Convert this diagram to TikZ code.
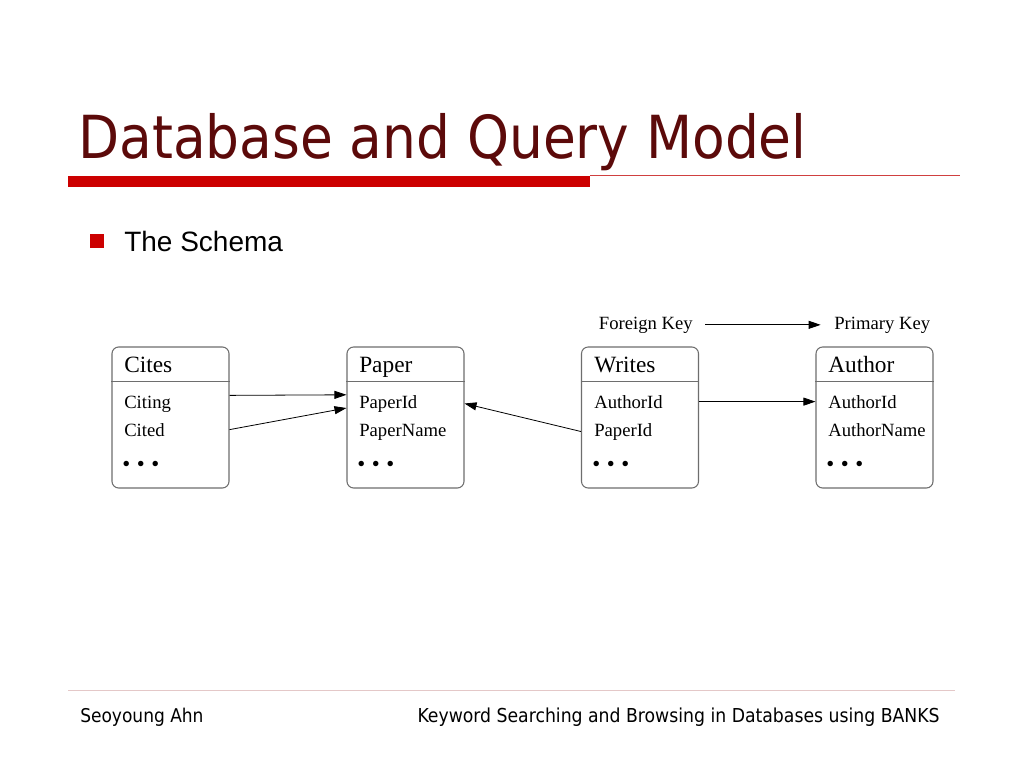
\documentclass[tikz,border=0pt]{standalone}
\usepackage{fontspec}
\setmainfont{Liberation Serif}
\newfontfamily\slidefont{DejaVu Sans Condensed}
\newfontfamily\bulletfont{Liberation Sans}
\usetikzlibrary{arrows.meta}
\definecolor{titlered}{HTML}{5C0A0A}
\definecolor{barred}{HTML}{CC0000}
\definecolor{linered}{HTML}{D04040}
\definecolor{footline}{HTML}{E4C8C8}
\definecolor{boxgray}{HTML}{6E6E6E}

\begin{document}
\begin{tikzpicture}[x=0.75pt,y=-0.75pt,
    tablebox/.style={draw=boxgray,line width=0.8pt,rounded corners=5pt,
        minimum width=87.75pt,minimum height=105.75pt,inner sep=0pt},
    tabhead/.style={anchor=base west,inner sep=0pt,font=\fontsize{17.5}{20}\selectfont},
    row/.style={anchor=base west,inner sep=0pt,font=\fontsize{14}{16}\selectfont},
    dots/.style={anchor=base west,inner sep=0pt,font=\fontsize{17}{20}\selectfont},
    fk/.style={line width=0.6pt,-{Triangle[length=9pt,width=6pt]}}]
    \useasboundingbox[fill=white] (0,0) rectangle (1024,768);

    % title and rules
    \node[anchor=base west,inner sep=0pt,text=titlered,
        font=\slidefont\fontsize{44.5}{50}\selectfont] (title) at (78,158) {Database and Query Model};
    \fill[barred] (68,176) rectangle (590,187);
    \draw[linered,line width=0.9pt] (590,175.5) -- (960,175.5);
    \fill[barred] (90,234) rectangle (104,248);
    \node[anchor=base west,inner sep=0pt,font=\bulletfont\fontsize{21}{24}\selectfont] (schema) at (124,251) {The Schema};

    % legend
    \node[row,anchor=base east] (fkey) at (693,329) {Foreign Key};
    \node[row] (pkey) at (834,329) {Primary Key};
    \draw[fk] ([xshift=9pt]fkey.east) -- ([xshift=-10pt]pkey.west);

    % Cites
    \node[tablebox] (cites) at (170.5,417.5) {};
    \node[tabhead] (citesT) at (124,372) {Cites};
    \draw[boxgray,line width=0.8pt] ([yshift=-26.25pt]cites.north west) -- ([yshift=-26.25pt]cites.north east);
    \node[row] (citing) at (124,408) {Citing};
    \node[row] (cited) at (124,436) {Cited};
    \node[dots] (citesdots) at (122,471) {•\hspace{5pt}•\hspace{5pt}•};

    % Paper
    \node[tablebox] (paper) at (405.5,417.5) {};
    \node[tabhead] (paperT) at (359,372) {Paper};
    \draw[boxgray,line width=0.8pt] ([yshift=-26.25pt]paper.north west) -- ([yshift=-26.25pt]paper.north east);
    \node[row] (paperid) at (359,408) {PaperId};
    \node[row] (papername) at (359,436) {PaperName};
    \node[dots] (paperdots) at (357,471) {•\hspace{5pt}•\hspace{5pt}•};

    % Writes
    \node[tablebox] (writes) at (640,417.5) {};
    \node[tabhead] (writesT) at (594,372) {Writes};
    \draw[boxgray,line width=0.8pt] ([yshift=-26.25pt]writes.north west) -- ([yshift=-26.25pt]writes.north east);
    \node[row] (wauthorid) at (594,408) {AuthorId};
    \node[row] (wpaperid) at (594,436) {PaperId};
    \node[dots] (writesdots) at (592,471) {•\hspace{5pt}•\hspace{5pt}•};

    % Author
    \node[tablebox] (author) at (874.5,417.5) {};
    \node[tabhead] (authorT) at (828,372) {Author};
    \draw[boxgray,line width=0.8pt] ([yshift=-26.25pt]author.north west) -- ([yshift=-26.25pt]author.north east);
    \node[row] (authorid) at (828,408) {AuthorId};
    \node[row] (authorname) at (828,436) {AuthorName};
    \node[dots] (authordots) at (826,471) {•\hspace{5pt}•\hspace{5pt}•};

    % foreign keys
    \draw[fk] (cites.east |- citing.north) -- (paper.west |- paperid.north);
    \draw[fk] (cites.east |- cited) -- (paper.west |- paperid.base);
    \draw[fk] (writes.west |- wpaperid) -- (paper.east |- paperid);
    \draw[fk] (writes.east |- wauthorid) -- (author.west |- authorid);

    % footer
    \draw[footline,line width=0.75pt] (68,690.5) -- (955,690.5);
    \node[anchor=base west,inner sep=0pt,font=\slidefont\fontsize{14.2}{16}\selectfont] (presenter) at (80,722) {Seoyoung Ahn};
    \node[anchor=base east,inner sep=0pt,font=\slidefont\fontsize{14.4}{16}\selectfont] (talk) at (940,722) {Keyword Searching and Browsing in Databases using BANKS};
\end{tikzpicture}
\end{document}
